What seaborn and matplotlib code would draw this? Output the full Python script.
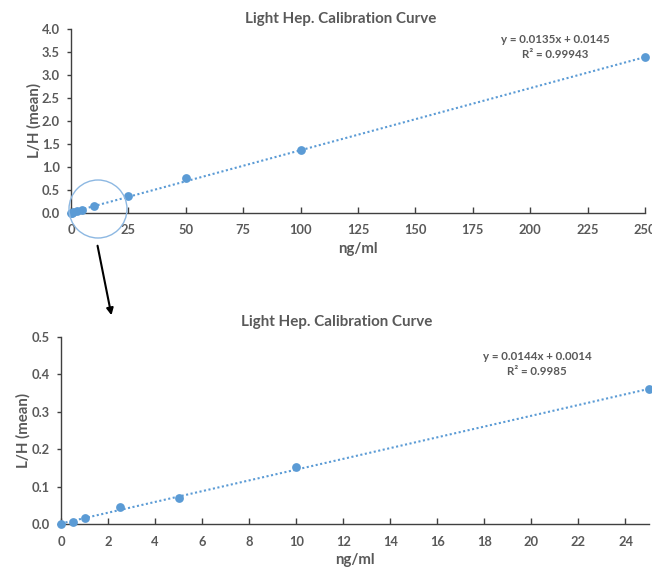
import numpy as np
import pandas as pd
import matplotlib
matplotlib.use("Agg")
import matplotlib.pyplot as plt
import seaborn as sns
from matplotlib.patches import Ellipse, FancyArrowPatch
from matplotlib.ticker import FormatStrFormatter

# ---- data ----
conc_all = [0, 0.5, 1, 2.5, 5, 10, 25, 50, 100, 250]
ratio_all = [0.0, 0.005, 0.016, 0.045, 0.069, 0.153, 0.36, 0.754, 1.37, 3.39]
conc_low = [0, 0.5, 1, 2.5, 5, 10, 25]
ratio_low = [0.0, 0.005, 0.016, 0.045, 0.069, 0.153, 0.36]

fit_all = (0.0135, 0.0145)
fit_low = (0.0144, 0.0014)
eq_all = ["y = 0.0135x + 0.0145", "R² = 0.99943"]
eq_low = ["y = 0.0144x + 0.0014", "R² = 0.9985"]

title = "Light Hep. Calibration Curve"
xlabel = "ng/ml"
ylabel = "L/H (mean)"

top_xticks = [0, 25, 50, 75, 100, 125, 150, 175, 200, 225, 250]
top_yticks = [0.0, 0.5, 1.0, 1.5, 2.0, 2.5, 3.0, 3.5, 4.0]
low_xticks = [0, 2, 4, 6, 8, 10, 12, 14, 16, 18, 20, 22, 24]
low_yticks = [0.0, 0.1, 0.2, 0.3, 0.4, 0.5]

# ---- style ----
sns.set_theme(style="white")
plt.rcParams['font.family'] = ['Lato', 'DejaVu Sans']
GREY = "#595959"
BLUE = "#5B9BD5"

W, H = 652, 570
fig = plt.figure(figsize=(W / 100, H / 100), dpi=100)


def px_axes(l, t, r, b):
    return fig.add_axes([l / W, 1 - b / H, (r - l) / W, (b - t) / H])


def draw(ax, xs, ys, fit, xmax, ymax, xticks, yticks, eq, eq_xy, xpad, ypad):
    df = pd.DataFrame({"x": xs, "y": ys})
    m, b = fit
    line = pd.DataFrame({"x": [0, xmax], "y": [b, m * xmax + b]})
    sns.lineplot(data=line, x="x", y="y", ax=ax, color=BLUE, lw=1.5,
                 linestyle=(0, (1, 1.2)), zorder=2)
    sns.scatterplot(data=df, x="x", y="y", ax=ax, color=BLUE, s=40,
                    edgecolor=BLUE, linewidth=0, zorder=3, clip_on=False)
    ax.set_xlim(0, xmax)
    ax.set_ylim(0, ymax)
    ax.set_xticks(xticks)
    ax.set_yticks(yticks)
    ax.yaxis.set_major_formatter(FormatStrFormatter('%.1f'))
    for s in ["top", "right"]:
        ax.spines[s].set_visible(False)
    for s in ["left", "bottom"]:
        ax.spines[s].set_color("#404040")
        ax.spines[s].set_linewidth(1.0)
    ax.tick_params(axis="x", direction="in", length=4, width=1, color="#404040",
                   labelsize=9.3, labelcolor=GREY, pad=xpad, bottom=True)
    ax.tick_params(axis="y", direction="out", length=3, width=1, color="#404040",
                   labelsize=9.3, labelcolor=GREY, pad=ypad, left=True)
    for lab in ax.get_xticklabels() + ax.get_yticklabels():
        lab.set_fontweight("bold")
    ax.set_xlabel(xlabel, fontsize=10.8, fontweight="bold", color=GREY)
    ax.set_ylabel(ylabel, fontsize=10.8, fontweight="bold", color=GREY)
    ax.text(eq_xy[0], eq_xy[1], eq[0] + "\n" + eq[1], transform=fig.transFigure,
            ha="center", va="top", fontsize=8.3, fontweight="bold", color=GREY,
            linespacing=1.45)
    ax.patch.set_alpha(0)


ax1 = px_axes(71, 29, 645, 213)
draw(ax1, conc_all, ratio_all, fit_all, 250, 4.0, top_xticks, top_yticks,
     eq_all, (555 / W, 1 - 34 / H), 8, 5)
ax1.set_title(title, fontsize=10.9, fontweight="bold", color=GREY, pad=4,
              x=(341 - 71) / (645 - 71))
ax1.xaxis.set_label_coords(0.5, -0.155)
ax1.yaxis.set_label_coords(-0.052, 0.5)

ax2 = px_axes(61, 337, 649, 524)
draw(ax2, conc_low, ratio_low, fit_low, 25, 0.5, low_xticks, low_yticks,
     eq_low, (537 / W, 1 - 351 / H), 9, 5)
ax2.set_title(title, fontsize=10.9, fontweight="bold", color=GREY, pad=8,
              x=(337 - 61) / (649 - 61))
ax2.xaxis.set_label_coords(0.5, -0.155)
ax2.yaxis.set_label_coords(-0.051, 0.5)

# zoom circle and arrow
circ = Ellipse((98 / W, 1 - 209 / H), 58 / W, 58 / H, transform=fig.transFigure,
               fill=False, edgecolor="#8DB8E2", lw=1.0)
fig.add_artist(circ)
arr = FancyArrowPatch((97 / W, 1 - 243 / H), (112 / W, 1 - 318 / H),
                      transform=fig.transFigure, arrowstyle="-|>",
                      mutation_scale=10, color="black", lw=1.5)
fig.add_artist(arr)

fig.savefig("out.png", dpi=100)
